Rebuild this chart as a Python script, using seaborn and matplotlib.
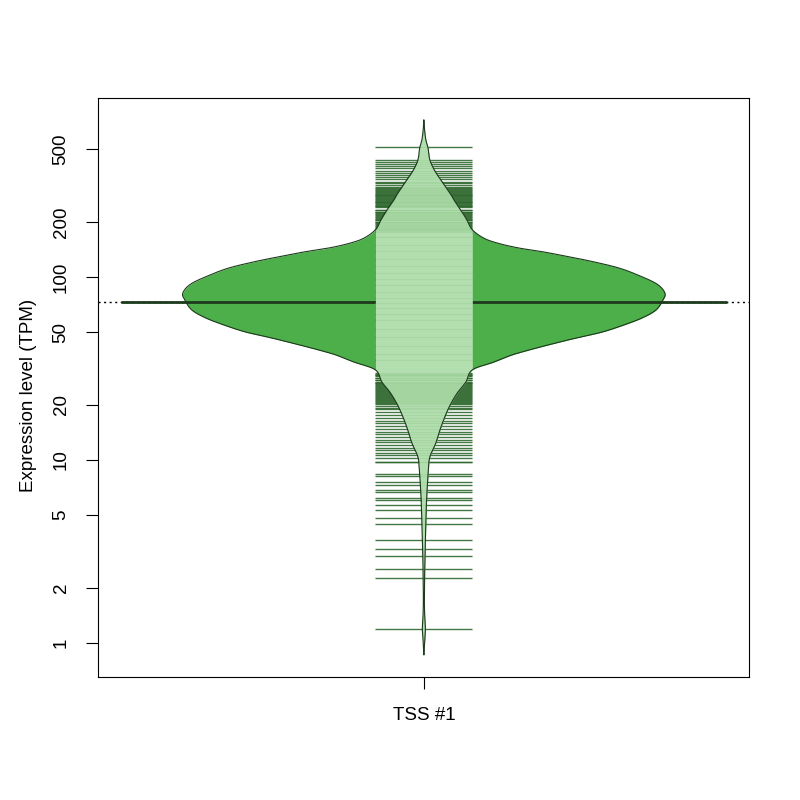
import numpy as np
import matplotlib
matplotlib.use("Agg")
import matplotlib.pyplot as plt
from matplotlib.patches import Polygon
import seaborn as sns

# ---------------- data ----------------
group_label = "TSS #1"
y_label = "Expression level (TPM)"
y_ticks = [1, 2, 5, 10, 20, 50, 100, 200, 500]

# density profile of the bean (TPM position, relative density)
profile_tpm = [721, 635, 561, 513, 494, 436, 384, 339, 288, 264, 232, 205, 181,
               163, 153, 144, 137, 129, 121, 112, 102.5, 91.6, 81.8, 74.9, 66.0,
               59.7, 54.7, 50.0, 46.4, 42.5, 39.9, 37.5, 34.3, 31.1, 26.7, 23.5,
               20.8, 18.3, 15.1, 12.4, 10.4, 8.82, 6.04, 3.99, 2.84, 2.21, 1.72,
               1.42, 1.19, 0.975, 0.86]
profile_density = [0, 0.7, 2, 4, 4.5, 6, 10.5, 17, 26, 30, 37, 43, 48.5,
                   60, 74, 95, 120, 145, 170, 195, 214, 233, 241, 239, 232,
                   218, 200, 178, 152, 124, 105, 88, 70, 48.5, 42, 34,
                   28, 23, 17, 12, 6, 4.5, 2.7, 1.7, 1.0, 0.7, 0.5,
                   0.8, 1.5, 0.5, 0]

# individual observations (bean lines), TPM
bean_values = [
    513,
    436, 426, 414, 404, 393, 381, 372, 361, 351, 342, 332, 325, 318, 311, 305,
    301, 298, 295, 292, 289, 285, 282, 279, 276, 273, 270, 267, 264, 261, 258,
    256, 253, 250, 247, 245, 243, 241,
    232, 232,
    228, 226, 223, 221, 218, 216, 213, 211, 208, 206, 204, 201, 199, 197, 195,
    193, 190, 188, 186, 184, 182, 180, 178, 176,
    165, 150, 138, 125, 115, 105, 97, 90, 83, 77, 72, 68, 63, 58, 52, 47, 42, 38, 35,
    30.0, 29.6, 29.3, 29.0, 28.6, 28.2, 27.9, 27.5, 27.2, 26.8, 26.5, 26.2, 25.9,
    25.6, 25.3, 25.0, 24.7, 24.4, 24.1, 23.8, 23.5, 23.2, 22.9, 22.7, 22.4,
    22.1, 21.8, 21.6, 21.3, 21.0, 20.8, 20.5, 20.3, 19.8, 19.3, 18.9,
    18.2, 17.6, 17.0, 16.4, 15.9, 15.3, 14.8, 14.3, 13.8, 13.4, 12.9, 12.5, 12.1,
    11.7, 11.3, 10.9, 10.6, 10.3,
    9.75, 9.70, 8.38, 8.15, 7.55, 7.33, 6.83, 6.66, 6.20, 6.02, 5.65, 5.35,
    4.84, 4.45, 3.65, 3.25, 3.00, 2.53, 2.27, 1.19,
]
bean_average = 73.0     # bean median line
overall_average = 73.0  # dotted overall line

# ---------------- styling ----------------
sns.set_theme(style="ticks")
plt.rcParams["font.family"] = ["Liberation Sans", "DejaVu Sans"]

fill_col = "#4DAF4A"
light_col = "#B3DEAF"
line_col = "#2E682E"
edge_col = "#1C3A1C"

bean_halfwidth = 1.0
strip_half = 0.201


def smooth_curve(u, v, n=16):
    """Catmull-Rom smoothing of a polyline for drawing."""
    pts = np.column_stack([u, v])
    p = np.vstack([pts[0], pts, pts[-1]])
    out = []
    for i in range(1, len(p) - 2):
        p0, p1, p2, p3 = p[i - 1], p[i], p[i + 1], p[i + 2]
        t = np.linspace(0, 1, n, endpoint=False)[:, None]
        seg = 0.5 * ((2 * p1) + (-p0 + p2) * t + (2 * p0 - 5 * p1 + 4 * p2 - p3) * t ** 2
                     + (-p0 + 3 * p1 - 3 * p2 + p3) * t ** 3)
        out.append(seg)
    out.append(p[-2][None, :])
    out = np.vstack(out)
    return out[:, 0], out[:, 1]


fig = plt.figure(figsize=(8, 8), dpi=100)
ax = fig.add_axes([0.1225, 0.15375, 0.81375, 0.72375])
ax.set_yscale("log")

logt = np.log10(np.array(profile_tpm, dtype=float))
dens = np.array(profile_density, dtype=float)
half0 = dens / dens.max() * bean_halfwidth
ls_, hs_ = smooth_curve(logt, half0)
hs_ = np.clip(hs_, 0, None)
tpm = 10 ** ls_
half = hs_

# overall dotted line
ax.axhline(overall_average, color="black", lw=1.0, ls=(0, (1.5, 2.5)), zorder=1)

# violin body
ax.fill_betweenx(tpm, -half, half, color=fill_col, lw=0, zorder=2)

# bean median line
ax.hlines([bean_average], -1.257, 1.257, color=edge_col, lw=2.0, zorder=3)

# bean lines (outside violin, dark)
ax.hlines(bean_values, -strip_half, strip_half, color=line_col, lw=1.0,
          alpha=0.9, zorder=4)

# light region: violin inside strip
inner = np.minimum(half, strip_half)
ax.fill_betweenx(tpm, -inner, inner, color=light_col, lw=0, zorder=5)

# bean lines inside violin (light)
verts = np.column_stack([np.concatenate([half, -half[::-1]]),
                         np.concatenate([tpm, tpm[::-1]])])
clip_poly = Polygon(verts, closed=True, transform=ax.transData,
                    facecolor="none", edgecolor="none")
ax.add_patch(clip_poly)
inner_lines = ax.hlines(bean_values, -strip_half, strip_half, color="#8FCB8B",
                        lw=0.8, alpha=0.35, zorder=6)
inner_lines.set_clip_path(clip_poly)

# outline
outline = {"w": np.concatenate([half, -half[::-1]]),
           "t": np.concatenate([tpm, tpm[::-1]])}
sns.lineplot(x=outline["w"], y=outline["t"], sort=False, estimator=None,
             color=edge_col, lw=0.8, ax=ax, zorder=7)

# axes
ax.set_xlim(-1.352, 1.349)
ax.set_ylim(0.652, 951)
ax.set_yticks(y_ticks)
ax.set_yticklabels([str(t) for t in y_ticks], rotation=90, va="center")
ax.yaxis.set_minor_locator(matplotlib.ticker.NullLocator())
ax.set_xticks([0])
ax.set_xticklabels([group_label])
for s in ax.spines.values():
    s.set_visible(True)
    s.set_color("black")
    s.set_linewidth(0.8)
ax.tick_params(axis="both", which="major", length=8.5, width=0.8,
               color="black", labelsize=13.5, labelcolor="black")
ax.tick_params(axis="y", pad=12)
ax.tick_params(axis="x", pad=13)
ax.set_ylabel(y_label, fontsize=13.5, color="black")
ax.yaxis.set_label_coords(-0.094, 0.487)
ax.set_facecolor("white")
fig.patch.set_facecolor("white")

fig.savefig("out.png", dpi=100, facecolor="white")
